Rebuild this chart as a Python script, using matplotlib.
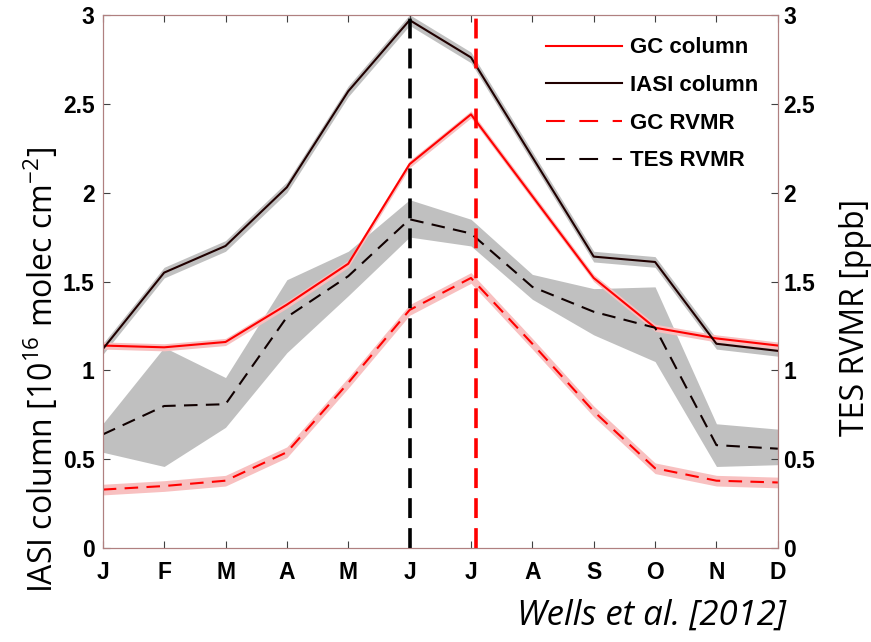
import matplotlib.pyplot as plt
from matplotlib.lines import Line2D
import numpy as np

months = ['J', 'F', 'M', 'A', 'M', 'J', 'J', 'A', 'S', 'O', 'N', 'D']

# column values [1e16 molec cm-2]
iasi_col = [1.12, 1.55, 1.70, 2.03, 2.57, 2.97, 2.76, 2.20, 1.64, 1.61, 1.15, 1.11]
iasi_err = 0.03
gc_col = [1.14, 1.13, 1.16, 1.37, 1.60, 2.16, 2.44, 1.98, 1.52, 1.24, 1.18, 1.14]
gc_col_err = 0.02

# RVMR values [ppb]
tes_rvmr = [0.64, 0.80, 0.81, 1.30, 1.53, 1.85, 1.77, 1.47, 1.33, 1.24, 0.58, 0.56]
tes_lo = [0.54, 0.46, 0.68, 1.10, 1.42, 1.75, 1.70, 1.40, 1.20, 1.05, 0.46, 0.47]
tes_hi = [0.70, 1.13, 0.96, 1.51, 1.67, 1.96, 1.85, 1.54, 1.46, 1.47, 0.70, 0.67]
gc_rvmr = [0.33, 0.35, 0.38, 0.54, 0.93, 1.34, 1.52, 1.15, 0.77, 0.45, 0.38, 0.37]
gc_rvmr_err = 0.03

peak_iasi = 5      # June
peak_gc = 6.08     # July

plt.rcParams['mathtext.fontset'] = 'custom'
plt.rcParams['mathtext.rm'] = 'Open Sans'
plt.rcParams['mathtext.default'] = 'regular'

x = np.arange(len(months))
spine_col = '#b08080'
tick_font = {'family': 'Liberation Sans', 'weight': 'bold', 'size': 16.5}
ylabs = ['0', '0.5', '1', '1.5', '2', '2.5', '3']

fig = plt.figure(figsize=(8.71, 6.42), dpi=100)
ax = fig.add_axes([0.118, 0.146, 0.775, 0.831])

ia = np.array(iasi_col)
gc = np.array(gc_col)
gr = np.array(gc_rvmr)

# shaded uncertainty bands
ax.fill_between(x, tes_lo, tes_hi, color='#c0c0c0', lw=0, zorder=1)
ax.fill_between(x, ia - iasi_err, ia + iasi_err, color='#c0c0c0', lw=0, zorder=1)
ax.fill_between(x, gc - gc_col_err, gc + gc_col_err, color='#f8c0c0', lw=0, zorder=1)
ax.fill_between(x, gr - gc_rvmr_err, gr + gc_rvmr_err, color='#f8c0c0', lw=0, zorder=1)

dash = (0, (6.5, 4))
ax.plot(x, gc_col, color='red', lw=1.5, zorder=3)
ax.plot(x, iasi_col, color='#200000', lw=1.5, zorder=3)
ax.plot(x, gc_rvmr, color='red', lw=1.5, ls=dash, zorder=3)
ax.plot(x, tes_rvmr, color='#100000', lw=1.5, ls=dash, zorder=3)

ax.axvline(peak_iasi, color='black', lw=2.6, ls=(0, (5.5, 2.8)), zorder=4)
ax.axvline(peak_gc, color='red', lw=2.6, ls=(0, (5.5, 2.8)), zorder=4)

ax.set_xlim(0, 11)
ax.set_ylim(0, 3)
ax.set_xticks(x)
ax.set_xticklabels(months, fontdict=tick_font)
ax.set_yticks(np.arange(0, 3.01, 0.5))
ax.set_yticklabels(ylabs, fontdict=tick_font)

for s in ax.spines.values():
    s.set_color(spine_col)
    s.set_linewidth(0.8)

ax.tick_params(direction='in', length=5, width=0.8, color='#404040', top=True)
ax.tick_params(axis='y', pad=6)
ax.tick_params(axis='x', pad=9)

ax.set_ylabel('IASI column [10$^{16}$ molec cm$^{-2}$]', fontsize=23,
              family='Open Sans')
ax.yaxis.set_label_coords(-0.062, 0.334)

ax2 = ax.twinx()
ax2.set_ylim(0, 3)
ax2.set_yticks(np.arange(0, 3.01, 0.5))
ax2.set_yticklabels(ylabs, fontdict=tick_font)
ax2.tick_params(direction='in', length=5, width=0.8, color='#404040', pad=4)
for s in ax2.spines.values():
    s.set_color(spine_col)
    s.set_linewidth(0.8)
ax2.set_ylabel('TES RVMR [ppb]', fontsize=23, family='Open Sans')
ax2.yaxis.set_label_coords(1.09, 0.433)

# legend proxies (legend dashes are longer than the plotted ones)
handles = [Line2D([], [], color='red', lw=1.5),
           Line2D([], [], color='#200000', lw=1.5),
           Line2D([], [], color='red', lw=1.5, ls=(0, (9, 7))),
           Line2D([], [], color='#100000', lw=1.5, ls=(0, (9, 7)))]
ax2.legend(handles, ['GC column', 'IASI column', 'GC RVMR', 'TES RVMR'],
           loc='upper right', bbox_to_anchor=(1.0, 0.995), frameon=False,
           prop={'family': 'Liberation Sans', 'weight': 'bold', 'size': 16},
           handlelength=3.4, handletextpad=0.35, labelspacing=0.75)

fig.text(0.902, 0.015, 'Wells et al. [2012]', ha='right', va='bottom',
         fontsize=25, style='italic', family='Open Sans')

fig.savefig('out.png', dpi=100)
